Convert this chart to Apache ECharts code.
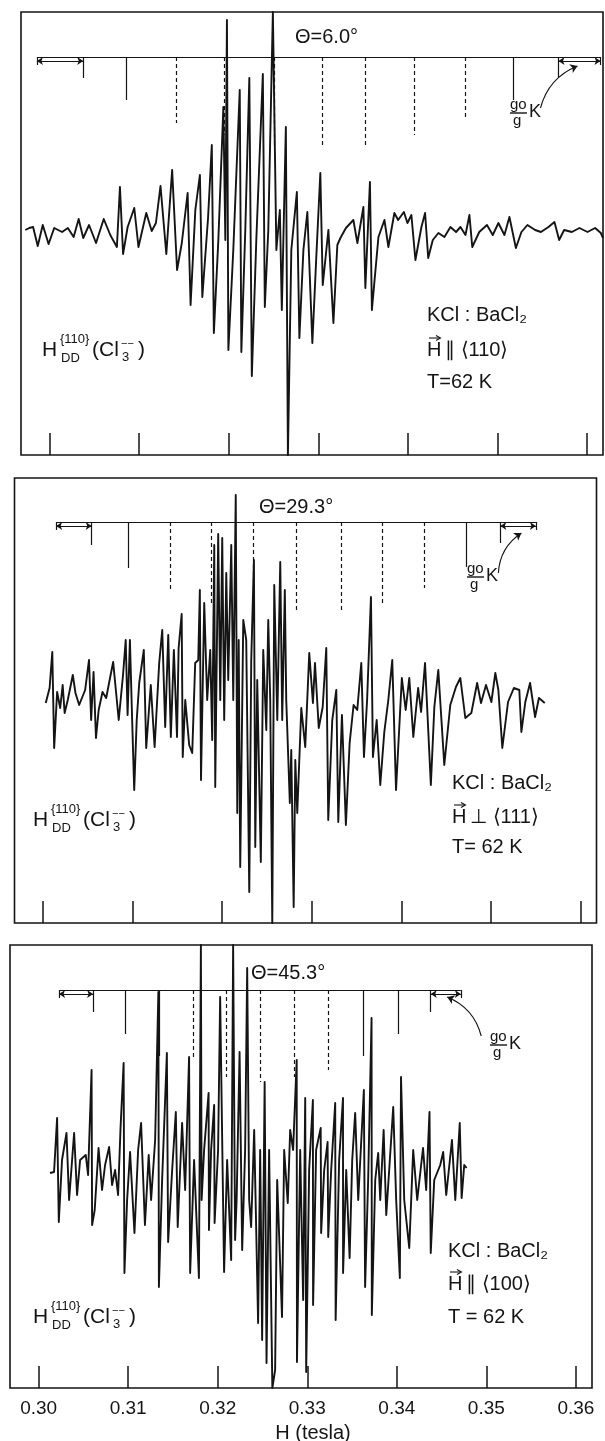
<!DOCTYPE html>
<html>
<head>
<meta charset="utf-8">
<script src="https://cdn.jsdelivr.net/npm/echarts@6/dist/echarts.min.js"></script>
<style>
html, body { margin: 0; padding: 0; background: #fff; }
#chart { width: 605px; height: 1441px; }
</style>
</head>
<body>
<div id="chart"></div>
<script>
// field in mT, signal in arbitrary units (0 = baseline)
var field1 = [297.28,297.72,298.15,298.67,299.23,299.88,300.51,301.39,302.03,302.68,
    303.24,303.75,304.40,305.18,306.04,306.77,307.51,307.85,308.20,308.71,
    309.45,309.92,310.79,311.40,311.87,312.38,313.03,313.68,314.23,314.76,
    315.41,315.74,316.27,316.78,317.05,317.69,318.11,318.34,318.84,319.40,
    319.62,319.80,319.96,320.51,321.23,321.41,321.85,322.30,322.58,323.08,
    323.81,324.03,324.42,324.93,325.32,325.71,325.93,326.38,326.61,326.99,
    327.61,327.89,328.34,328.78,329.34,329.79,330.23,330.50,331.13,331.69,
    332.13,332.47,333.09,333.92,334.37,335.04,335.26,335.77,335.99,336.72,
    337.39,337.83,338.50,338.92,339.56,339.96,340.40,340.85,341.52,341.93,
    342.28,342.79,343.42,344.09,344.76,345.39,345.88,346.44,346.88,347.20,
    347.98,348.84,349.49,350.12,350.79,351.35,352.07,352.69,353.36,354.22,
    354.87,355.71,356.38,356.90,357.46,358.32,359.17,360.07,360.92,361.56,361.80];
var signal1 = [0,2,3,-16,5,-14,2,-2,2,-7,
    11,-8,5,-13,11,-5,-17,43,-24,3,
    22,-17,17,-1,7,44,-24,60,-40,-13,
    37,-75,20,55,-67,12,85,-103,-10,123,
    -10,210,-120,-20,140,-122,0,152,-146,-10,
    156,-77,0,218,-20,20,-80,103,-225,-20,
    38,-108,-20,18,-113,-25,57,-55,0,-93,
    -15,-8,2,10,-13,23,-58,48,-80,-7,
    10,-17,17,10,18,7,15,-30,3,17,
    -28,-10,-3,-7,3,-2,3,-5,15,-17,
    -2,5,-5,7,-5,13,-18,-2,5,0,
    -2,3,8,-10,0,-2,2,-2,2,-3,-8];

var field2 = [300.29,300.72,301.02,301.23,301.56,301.90,302.18,302.40,302.75,303.31,
    303.61,304.02,304.69,305.12,305.36,305.63,305.90,306.20,306.63,307.04,
    307.49,307.82,308.44,308.92,309.22,309.43,309.69,309.94,310.17,310.45,
    310.73,311.24,311.51,312.02,312.45,312.96,313.30,313.63,313.97,314.26,
    314.60,314.95,315.13,315.47,315.59,315.87,316.31,316.65,316.98,317.32,
    317.50,317.63,317.99,318.32,318.66,318.88,319.11,319.22,319.55,319.78,
    320.00,320.22,320.45,320.67,321.01,321.23,321.51,321.68,321.84,322.01,
    322.35,322.68,323.02,323.24,323.54,323.69,323.91,324.31,324.58,324.92,
    325.14,325.36,325.59,325.81,326.15,326.48,326.70,326.99,327.15,327.55,
    327.71,327.98,328.16,328.38,328.83,329.27,329.72,330.13,330.36,330.78,
    331.22,331.62,331.84,332.29,332.74,332.96,333.37,333.81,334.23,334.67,
    335.08,335.53,335.83,336.18,336.61,336.83,337.25,337.65,338.10,338.55,
    338.99,339.41,340.06,340.49,340.89,341.34,341.88,342.21,342.65,343.30,
    343.69,344.13,344.80,345.47,346.10,346.59,347.15,347.82,348.47,348.90,
    349.46,350.06,350.50,350.84,351.28,351.92,352.57,353.18,353.41,353.85,
    354.38,354.94,355.37,356.02];
var signal2 = [-1,14,50,-46,10,-6,17,-11,2,27,
    9,-3,12,42,-18,30,-36,-8,10,4,
    25,40,-18,27,62,-13,62,-18,-88,-18,
    19,52,-46,17,-45,39,72,-25,67,-35,
    52,-35,54,88,-55,2,-43,-51,39,42,
    112,-78,99,2,52,-38,157,-85,168,2,
    164,-18,129,22,157,2,207,-111,62,-165,
    82,62,-190,42,142,-145,22,-160,52,-28,
    82,2,-221,117,-18,140,-18,112,2,-101,
    -48,-205,-58,-111,-6,-45,49,-1,39,-26,
    -5,54,-118,-18,12,-120,-13,-123,-41,-3,
    -8,39,-55,2,105,-55,-18,-83,-30,2,
    42,-88,24,-8,24,-35,14,-10,39,-83,
    -5,32,-63,-3,15,24,-16,-11,19,-1,
    17,0,29,12,-46,0,14,12,-30,0,
    19,-15,4,-1];

var field3 = [301.27,301.72,302.06,302.25,302.61,303.11,303.40,303.96,304.29,304.63,
    305.26,305.52,305.91,305.97,306.26,306.69,307.08,307.42,307.87,308.20,
    308.54,308.87,309.15,309.49,309.58,309.88,310.21,310.70,311.11,311.44,
    311.87,312.29,312.56,313.01,313.37,313.43,313.79,314.32,314.46,314.91,
    315.32,315.53,316.02,316.36,316.80,316.92,317.36,317.90,318.12,318.20,
    318.48,318.98,319.02,319.26,319.60,319.65,320.04,320.27,320.71,321.05,
    321.50,321.72,321.94,322.11,322.44,322.73,323.06,323.29,323.51,323.73,
    324.07,324.51,324.74,324.96,325.24,325.45,325.74,326.10,326.41,326.64,
    327.18,327.42,327.82,328.09,328.42,328.82,328.85,329.21,329.54,329.77,
    329.88,330.21,330.63,330.65,330.99,331.50,331.55,331.89,332.27,332.34,
    332.67,333.12,333.17,333.56,333.99,334.00,334.35,334.73,335.02,335.35,
    335.69,336.32,336.46,336.80,337.18,337.21,337.59,337.92,338.15,338.53,
    338.82,339.15,339.60,339.93,340.34,340.47,340.83,341.39,341.83,342.28,
    342.93,343.28,343.65,343.79,344.18,344.85,345.18,345.52,346.16,346.53,
    347.03,347.24,347.53,347.80];
var signal3 = [0,1,55,-49,13,40,-27,40,-22,13,
    18,-2,103,-52,-37,25,-17,8,26,-12,
    3,-22,46,110,-100,-27,21,-60,23,50,
    -52,18,-27,33,181,-114,-7,120,-69,3,
    61,-54,50,-17,116,-100,13,-105,228,-27,
    23,80,-57,23,68,-50,23,176,-99,13,
    -87,228,-67,-27,121,-77,23,205,-27,-54,
    43,-150,23,-167,91,-190,23,-215,-197,-7,
    -144,23,-30,43,23,113,-189,23,-127,75,
    -199,3,73,-132,23,45,-60,3,31,-64,
    3,70,-147,13,75,-100,3,-85,13,60,
    -27,83,-114,-7,155,-142,-7,20,-27,43,
    -42,3,66,-27,-105,96,-27,-75,23,-27,
    25,-17,61,-80,-7,8,21,-22,33,-27,
    50,-25,8,5];

// tick positions (mT) along the field axis
var fieldTicks = [300, 310, 320, 330, 340, 350, 360];

// stick diagrams (line positions in mT, lengths in signal units)
var stickField1 = [303.75,308.50,314.11,319.51,325.10,330.41,335.26,340.74,346.38,351.77,356.83];
var stickLen1 = [21,43,66,78,88,88,88,78,63,43,20];
var stickSolid1 = [1,1,0,0,0,0,0,0,0,1,1];
var stickEnds1 = [298.58, 361.52];

var stickField2 = [305.42,309.50,314.19,318.77,323.46,328.27,333.24,337.88,342.57,347.26,351.06];
var stickLen2 = [23,46,68,81,90,90,90,81,66,45,21];
var stickSolid2 = [1,1,0,0,0,0,0,0,0,1,1];
var stickEnds2 = [301.45, 355.03];

var stickField3 = [306.08,309.62,313.45,317.25,320.94,324.74,328.54,332.33,336.25,340.12,343.79];
var stickLen3 = [22,44,66,67,87,92,87,80,66,44,22];
var stickSolid3 = [1,1,1,0,0,0,0,0,1,1,1];
var stickEnds3 = [302.28, 347.15];

var thetas = ['\u0398=6.0\u00b0', '\u0398=29.3\u00b0', '\u0398=45.3\u00b0'];
var orient = ['\u2225 \u27e8110\u27e9', '\u22a5 \u27e8111\u27e9', '\u2225 \u27e8100\u27e9'];
var temps = ['T=62 K', 'T= 62 K', 'T = 62 K'];

var FONT = 'Liberation Sans';
var INK = '#141414';

var grids = [
    { left: 21, top: 12, width: 582, height: 443 },
    { left: 14.5, top: 478, width: 582, height: 445 },
    { left: 10, top: 945, width: 582, height: 443 }
];
var yRanges = [[-225, 218], [-221, 224], [-215, 228]];
var stickTop = [173, 180, 183];
var curveFrom = [[354.82, 122], [350.84, 129], [349.43, 137]];
var curveTo = [[358.95, 164], [353.41, 169], [345.63, 176]];

function pairs(h, s) {
    var out = [];
    for (var i = 0; i < h.length && i < s.length; i++) out.push([h[i], s[i]]);
    return out;
}

function stickSeries(k, field, len, solid, ends) {
    var top = stickTop[k];
    var data = [{ coords: [[ends[0], top], [ends[1], top]] }];
    data.push({ coords: [[ends[0], top], [ends[0], top - 8]] });
    data.push({ coords: [[ends[1], top], [ends[1], top - 8]] });
    for (var i = 0; i < field.length; i++) {
        data.push({
            coords: [[field[i], top], [field[i], top - len[i]]],
            lineStyle: { type: solid[i] ? 'solid' : [4, 3] }
        });
    }
    return {
        type: 'lines', coordinateSystem: 'cartesian2d', xAxisIndex: k, yAxisIndex: k,
        silent: true, symbol: 'none', z: 3,
        lineStyle: { color: INK, width: 1.2, opacity: 1 },
        data: data
    };
}

function arrowSeries(k, field, ends) {
    var y = stickTop[k] - 4;
    return {
        type: 'lines', coordinateSystem: 'cartesian2d', xAxisIndex: k, yAxisIndex: k,
        silent: true, symbol: ['arrow', 'arrow'], symbolSize: 6, z: 3,
        lineStyle: { color: INK, width: 1.1, opacity: 1 },
        data: [
            { coords: [[ends[0], y], [field[0], y]] },
            { coords: [[field[field.length - 1], y], [ends[1], y]] }
        ]
    };
}

function curveSeries(k, bend) {
    return {
        type: 'lines', coordinateSystem: 'cartesian2d', xAxisIndex: k, yAxisIndex: k,
        silent: true, symbol: ['none', 'arrow'], symbolSize: 7, z: 3,
        lineStyle: { color: INK, width: 1.1, opacity: 1, curveness: bend },
        data: [{ coords: [curveFrom[k], curveTo[k]] }]
    };
}

function spectrum(k, h, s) {
    return {
        type: 'line', xAxisIndex: k, yAxisIndex: k, data: pairs(h, s),
        showSymbol: false, symbol: 'none', silent: true, z: 4,
        lineStyle: { color: INK, width: 1.9, join: 'round' }
    };
}

function xAxis(k, labels) {
    return {
        type: 'value', gridIndex: k, min: 296.8, max: 361.8, position: 'bottom',
        axisLine: { show: false, onZero: false },
        splitLine: { show: false },
        axisTick: { show: true, inside: true, length: 22, customValues: fieldTicks,
            lineStyle: { color: INK, width: 1.5 } },
        axisLabel: { show: labels, customValues: fieldTicks, margin: 11, color: INK,
            fontSize: 19, fontFamily: FONT,
            formatter: function (v) { return (v / 1000).toFixed(2); } }
    };
}

function yAxis(k) {
    return { type: 'value', gridIndex: k, min: yRanges[k][0], max: yRanges[k][1], show: false };
}

function txt(x, y, s, size, extra) {
    var st = { text: s, fontSize: size, fontFamily: FONT, fill: INK, verticalAlign: 'middle' };
    for (var key in extra) st[key] = extra[key];
    return { type: 'text', x: x, y: y, style: st, silent: true };
}

// H_DD^{110}(Cl3--)
function hddLabel(x, y) {
    return { type: 'group', x: x, y: y, children: [
        txt(0, 0, 'H', 21),
        txt(18, -11, '{110}', 13),
        txt(19, 8, 'DD', 13),
        txt(50, 0, '(Cl', 21),
        txt(80, 7, '3', 13),
        txt(79, -6, '\u2212\u2212', 11),
        txt(96, 0, ')', 21)
    ] };
}

// vector H with a small arrow on top, then the orientation text
function orientLabel(x, y, rest) {
    return { type: 'group', x: x, y: y, children: [
        txt(0, 0, 'H', 20),
        { type: 'polyline', shape: { points: [[2, -12], [13, -12]] }, style: { stroke: INK, lineWidth: 1.1, fill: null } },
        { type: 'polyline', shape: { points: [[9, -14.5], [13.5, -12], [9, -9.5]] }, style: { stroke: INK, lineWidth: 1.1, fill: null } },
        txt(18, 0, rest, 20)
    ] };
}

// g0/g K
function gkLabel(x, y) {
    return { type: 'group', x: x, y: y, children: [
        txt(0, -8, 'go', 15),
        { type: 'line', shape: { x1: 0, y1: 0, x2: 17, y2: 0 }, style: { stroke: INK, lineWidth: 1.4 } },
        txt(3, 8, 'g', 15),
        txt(19, -1, 'K', 18)
    ] };
}

var graphics = [
    txt(295, 37, thetas[0], 20),
    txt(259, 507, thetas[1], 20),
    txt(251, 973, thetas[2], 20),
    txt(427, 315, 'KCl : BaCl\u2082', 20),
    orientLabel(427, 350, orient[0]),
    txt(427, 382, temps[0], 20),
    txt(452, 783, 'KCl : BaCl\u2082', 20),
    orientLabel(452, 817, orient[1]),
    txt(452, 847, temps[1], 20),
    txt(448, 1251, 'KCl : BaCl\u2082', 20),
    orientLabel(448, 1284, orient[2]),
    txt(448, 1317, temps[2], 20),
    hddLabel(42, 350),
    hddLabel(33, 820),
    hddLabel(33, 1317),
    gkLabel(510, 113),
    gkLabel(467, 577),
    gkLabel(490, 1045),
    txt(313, 1433, 'H (tesla)', 20, { align: 'center' })
];

var chart = echarts.init(document.getElementById('chart'));
var option = {
    animation: false,
    backgroundColor: '#fff',
    grid: grids.map(function (g) {
        return { left: g.left, top: g.top, width: g.width, height: g.height,
            show: true, borderColor: INK, borderWidth: 1.6, backgroundColor: 'transparent' };
    }),
    xAxis: [xAxis(0, false), xAxis(1, false), xAxis(2, true)],
    yAxis: [yAxis(0), yAxis(1), yAxis(2)],
    series: [
        spectrum(0, field1, signal1),
        spectrum(1, field2, signal2),
        spectrum(2, field3, signal3),
        stickSeries(0, stickField1, stickLen1, stickSolid1, stickEnds1),
        stickSeries(1, stickField2, stickLen2, stickSolid2, stickEnds2),
        stickSeries(2, stickField3, stickLen3, stickSolid3, stickEnds3),
        arrowSeries(0, stickField1, stickEnds1),
        arrowSeries(1, stickField2, stickEnds2),
        arrowSeries(2, stickField3, stickEnds3),
        curveSeries(0, 0.25),
        curveSeries(1, 0.25),
        curveSeries(2, -0.25)
    ],
    graphic: graphics
};
chart.setOption(option);
window.onresize = chart.resize;
</script>
</body>
</html>
